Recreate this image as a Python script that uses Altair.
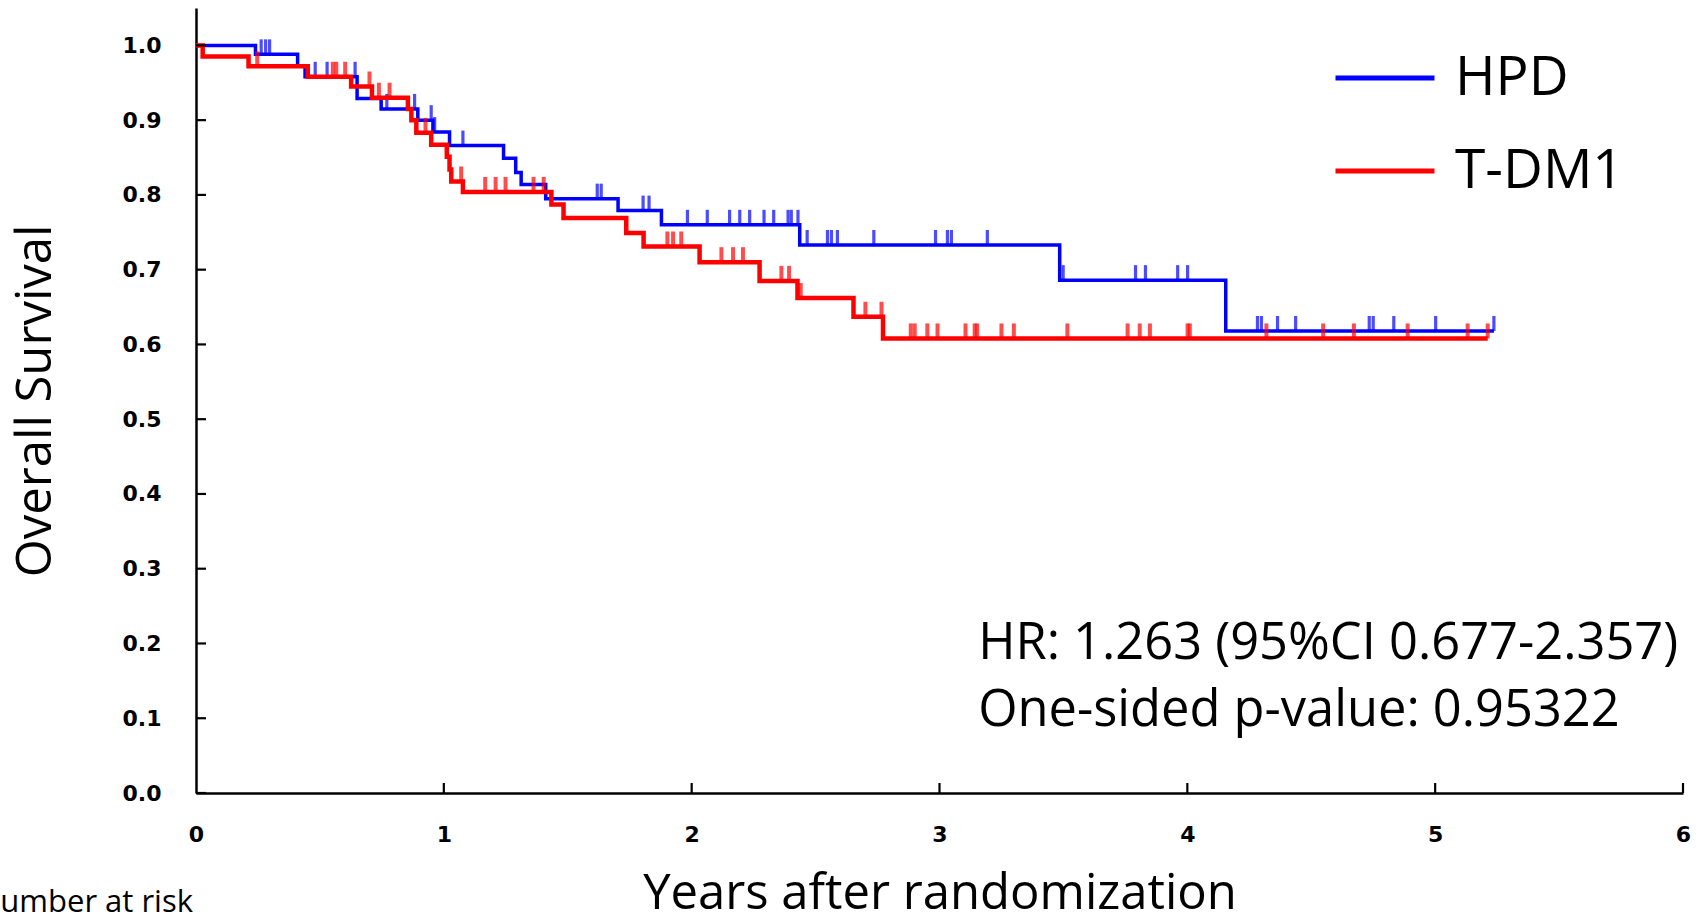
import altair as alt
import pandas as pd

# ---- Kaplan-Meier step data ----
hpd_t = [0.0, 0.24, 0.41, 0.44, 0.65, 0.747, 0.895, 0.956, 1.023, 1.241, 1.290, 1.312,
         1.411, 1.703, 1.878, 2.436, 3.485, 4.155, 5.237]
hpd_s = [1.0, 0.988, 0.972, 0.958, 0.929, 0.915, 0.900, 0.884, 0.866, 0.849, 0.830, 0.814,
         0.795, 0.779, 0.760, 0.733, 0.686, 0.618, 0.618]

tdm_t = [0.0, 0.027, 0.212, 0.451, 0.626, 0.710, 0.855, 0.869, 0.889, 0.949, 1.012, 1.023,
         1.030, 1.077, 1.434, 1.483, 1.736, 1.806, 2.032, 2.274, 2.427, 2.653, 2.772, 5.212]
tdm_s = [1.0, 0.985, 0.972, 0.958, 0.945, 0.930, 0.915, 0.900, 0.883, 0.867, 0.851, 0.834,
         0.818, 0.804, 0.787, 0.769, 0.749, 0.731, 0.710, 0.685, 0.662, 0.637, 0.608, 0.608]

# censoring marks
hpd_cens_t = [0.263, 0.281, 0.297, 0.481, 0.529, 0.642, 0.770, 0.882, 0.949, 0.963, 1.077,
              1.619, 1.635, 1.804, 1.828, 1.983, 2.063, 2.153, 2.194, 2.234, 2.292, 2.331,
              2.389, 2.402, 2.429, 2.466, 2.548, 2.564, 2.588, 2.735, 2.984, 3.032, 3.048,
              3.193, 3.499, 3.791, 3.831, 3.961, 4.001, 4.283, 4.299, 4.364, 4.437, 4.734,
              4.750, 4.833, 5.002, 5.237]
hpd_cens_s = [0.988, 0.988, 0.988, 0.958, 0.958, 0.958, 0.915, 0.915, 0.900, 0.884, 0.866,
              0.795, 0.795, 0.779, 0.779, 0.760, 0.760, 0.760, 0.760, 0.760, 0.760, 0.760,
              0.760, 0.760, 0.760, 0.733, 0.733, 0.733, 0.733, 0.733, 0.733, 0.733, 0.733,
              0.733, 0.686, 0.686, 0.686, 0.686, 0.686, 0.618, 0.618, 0.618, 0.618, 0.618,
              0.618, 0.618, 0.618, 0.618]

tdm_cens_t = [0.247, 0.552, 0.566, 0.602, 0.700, 0.738, 0.781, 0.926, 1.070, 1.167, 1.209,
              1.249, 1.362, 1.403, 1.902, 1.925, 1.958, 2.120, 2.167, 2.207, 2.362, 2.393,
              2.440, 2.701, 2.766, 2.884, 2.900, 2.951, 2.992, 3.105, 3.142, 3.152, 3.250,
              3.300, 3.516, 3.759, 3.808, 3.849, 4.001, 4.010, 4.319, 4.548, 4.672, 4.889,
              5.131, 5.212]
tdm_cens_s = [0.972, 0.958, 0.958, 0.958, 0.945, 0.930, 0.930, 0.883, 0.818, 0.804, 0.804,
              0.804, 0.804, 0.804, 0.731, 0.731, 0.731, 0.710, 0.710, 0.710, 0.685, 0.685,
              0.662, 0.637, 0.637, 0.608, 0.608, 0.608, 0.608, 0.608, 0.608, 0.608, 0.608,
              0.608, 0.608, 0.608, 0.608, 0.608, 0.608, 0.608, 0.608, 0.608, 0.608, 0.608,
              0.608, 0.608]

arms = ["HPD", "T-DM1"]
arm_colors = ["#0000FF", "#FF0000"]

x_ticks = [0, 1, 2, 3, 4, 5, 6]
y_ticks = [0.0, 0.1, 0.2, 0.3, 0.4, 0.5, 0.6, 0.7, 0.8, 0.9, 1.0]

ann_text = ["HR: 1.263 (95%CI 0.677-2.357)", "One-sided p-value: 0.95322"]
ann_x = [3.156, 3.156]
ann_y = [0.179, 0.090]

W, H = 1487, 785
TITLE_FONT = "Open Sans"
LABEL_FONT = "DejaVu Sans"

hpd_df = pd.DataFrame({"t": hpd_t, "s": hpd_s, "arm": "HPD"})
tdm_df = pd.DataFrame({"t": tdm_t, "s": tdm_s, "arm": "T-DM1"})
hpd_c = pd.DataFrame({"t": hpd_cens_t, "s": hpd_cens_s})
tdm_c = pd.DataFrame({"t": tdm_cens_t, "s": tdm_cens_s})

xscale = alt.Scale(domain=[0, 6], nice=False, zero=False)
yscale = alt.Scale(domain=[0, 1.05], nice=False)

x_enc = alt.X("t:Q", scale=xscale,
              axis=alt.Axis(values=x_ticks, format="d", title="Years after randomization",
                            ticks=False, grid=False, labelPadding=31, titlePadding=24,
                            labelFlush=False))
y_enc = alt.Y("s:Q", scale=yscale,
              axis=alt.Axis(values=y_ticks, format=".1f", title="Overall Survival",
                            ticks=False, grid=False, labelPadding=35, titlePadding=62))

color_enc = alt.Color(
    "arm:N",
    scale=alt.Scale(domain=arms, range=arm_colors),
    legend=alt.Legend(title=None, orient="none", legendX=1137, legendY=18,
                      symbolType="stroke", symbolSize=9801, symbolStrokeWidth=5,
                      labelFont=TITLE_FONT, labelFontSize=55, labelOffset=18,
                      labelLimit=400, rowPadding=13, padding=0, labelColor="black"),
)

line_hpd = alt.Chart(hpd_df).mark_line(interpolate="step-after", strokeWidth=3.5).encode(
    x=x_enc, y=y_enc, color=color_enc)
line_tdm = alt.Chart(tdm_df).mark_line(interpolate="step-after", strokeWidth=4.5).encode(
    x=x_enc, y=y_enc, color=color_enc)

cens_hpd = alt.Chart(hpd_c).mark_tick(orient="vertical", size=15, thickness=3.2,
                                      yOffset=-7.5, color=arm_colors[0]).encode(
    x="t:Q", y="s:Q")
cens_tdm = alt.Chart(tdm_c).mark_tick(orient="vertical", size=15, thickness=4,
                                      yOffset=-7.5, color=arm_colors[1]).encode(
    x="t:Q", y="s:Q")

# inward axis ticks
ytick_df = pd.DataFrame({"v": y_ticks})
xtick_df = pd.DataFrame({"v": x_ticks[1:]})
yticks = alt.Chart(ytick_df).mark_rule(color="black", strokeWidth=2.2).encode(
    y=alt.Y("v:Q"), x=alt.value(0), x2=alt.value(10))
xticks = alt.Chart(xtick_df).mark_rule(color="black", strokeWidth=2.2).encode(
    x=alt.X("v:Q"), y=alt.value(H), y2=alt.value(H - 10))

ann_df = pd.DataFrame({"text": ann_text, "x": ann_x, "y": ann_y})
ann = alt.Chart(ann_df).mark_text(align="left", baseline="alphabetic", font=TITLE_FONT,
                                  fontSize=50.6, color="black").encode(
    x="x:Q", y="y:Q", text="text:N")

risk_df = pd.DataFrame({"text": ["Number at risk"]})
risk = alt.Chart(risk_df).mark_text(align="right", baseline="alphabetic", font=TITLE_FONT,
                                    fontSize=31, color="black").encode(
    x=alt.value(-3), y=alt.value(904), text="text:N")

chart = alt.layer(line_hpd, cens_hpd, line_tdm, cens_tdm, yticks, xticks, ann, risk).properties(
    width=W, height=H,
    autosize=alt.AutoSizeParams(type="none"),
    padding={"left": 196, "top": 8, "right": 20, "bottom": 124},
    background="white",
).configure_view(stroke=None).configure_axis(
    domainColor="black", domainWidth=2.5,
    labelFont=LABEL_FONT, labelFontWeight="bold", labelFontSize=22, labelColor="black",
    titleFont=TITLE_FONT, titleFontWeight="normal", titleFontSize=49, titleColor="black",
)

chart.save("out.html", embed_options={"renderer": "svg", "actions": False})
